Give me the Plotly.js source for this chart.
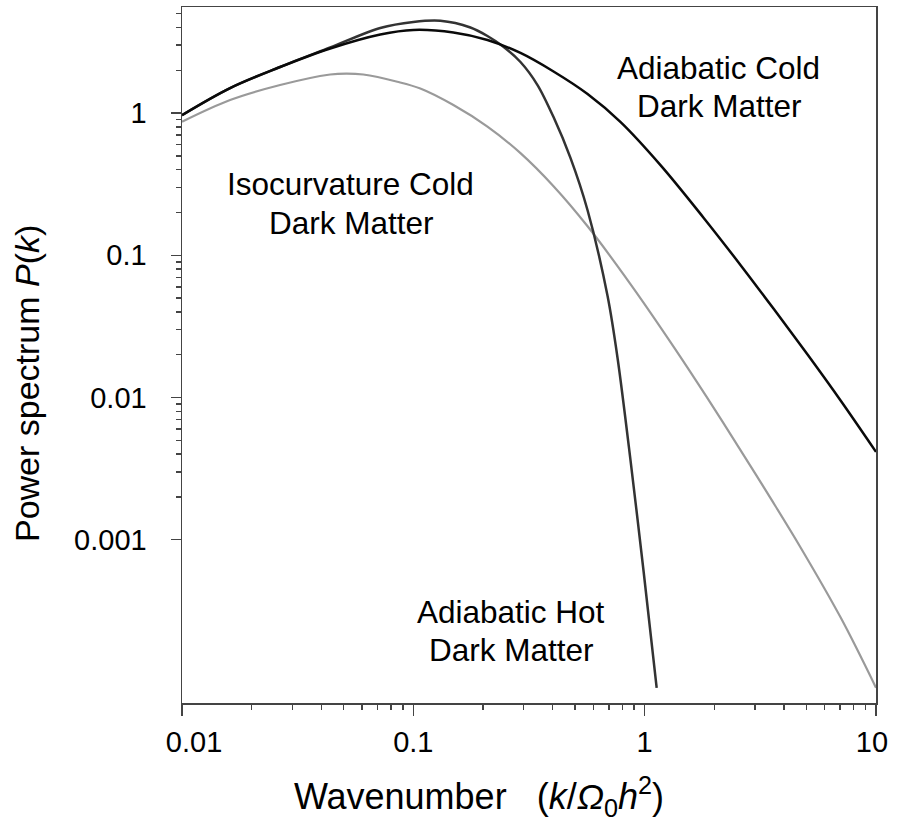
<!DOCTYPE html>
<html>
<head>
<meta charset="utf-8">
<script src="https://cdn.plot.ly/plotly-3.0.1.min.js"></script>
<style>html,body{margin:0;padding:0;background:#fff;}#chart{width:897px;height:822px;}</style>
</head>
<body>
<div id="chart"></div>
<script>
// Adiabatic Cold Dark Matter
var cdmK = [0.01, 0.01614, 0.02655, 0.04372, 0.07195, 0.1, 0.1490, 0.2091, 0.2905, 0.4037, 0.5665, 0.7873, 1.173, 1.800, 2.604, 3.617, 5.078, 7.055, 10];
var cdmP = [0.968, 1.500, 2.108, 2.846, 3.571, 3.842, 3.689, 3.267, 2.646, 1.960, 1.361, 0.864, 0.4290, 0.1831, 0.08489, 0.04185, 0.01988, 0.009449, 0.004145];

// Adiabatic Hot Dark Matter
var hdmK = [0.01, 0.01614, 0.02655, 0.04372, 0.07195, 0.1, 0.1309, 0.1765, 0.2091, 0.2428, 0.2905, 0.3442, 0.4037, 0.4782, 0.5665, 0.6916, 0.764, 0.8697, 0.9901, 1.127];
var hdmP = [0.968, 1.500, 2.108, 2.893, 3.968, 4.373, 4.460, 4.000, 3.486, 2.964, 2.287, 1.575, 0.9372, 0.4822, 0.2074, 0.05144, 0.01882, 0.003559, 0.0005932, 0.00009088];

// Isocurvature Cold Dark Matter
var isoK = [0.01, 0.01614, 0.02655, 0.04372, 0.05129, 0.06074, 0.08525, 0.1072, 0.1490, 0.2091, 0.2905, 0.4037, 0.5665, 0.8697, 1.335, 1.874, 2.527, 3.511, 4.734, 7.055, 10];
var isoP = [0.8685, 1.235, 1.575, 1.867, 1.897, 1.867, 1.661, 1.488, 1.139, 0.8034, 0.5228, 0.3061, 0.160, 0.06249, 0.02272, 0.009824, 0.004576, 0.001944, 0.0008757, 0.0002814, 0.00009118];

var xTickVals = [0.01, 0.1, 1, 10];
var xTickText = ['&nbsp;&nbsp;&nbsp;0.01', '0.1', '1', '10&nbsp;'];
var yTickVals = [0.001, 0.01, 0.1, 1];
var yTickText = ['0.001', '0.01', '0.1', '1'];
var xMinorVals = [0.02,0.03,0.04,0.05,0.06,0.07,0.08,0.09, 0.2,0.3,0.4,0.5,0.6,0.7,0.8,0.9, 2,3,4,5,6,7,8,9];
var yMinorVals = [0.002,0.003,0.004,0.005,0.006,0.007,0.008,0.009, 0.02,0.03,0.04,0.05,0.06,0.07,0.08,0.09, 0.2,0.3,0.4,0.5,0.6,0.7,0.8,0.9, 2,3,4,5];

var FONT = '"Liberation Sans", Arial, Helvetica, sans-serif';
var axisColor = '#444';

var traces = [
  {x: isoK, y: isoP, type: 'scatter', mode: 'lines', name: 'Isocurvature Cold Dark Matter',
   line: {color: '#9a9a9a', width: 2.2, shape: 'spline', smoothing: 1}},
  {x: hdmK, y: hdmP, type: 'scatter', mode: 'lines', name: 'Adiabatic Hot Dark Matter',
   line: {color: '#333333', width: 2.5, shape: 'spline', smoothing: 0.9}},
  {x: cdmK, y: cdmP, type: 'scatter', mode: 'lines', name: 'Adiabatic Cold Dark Matter',
   line: {color: '#0a0a0a', width: 2.5, shape: 'spline', smoothing: 1}}
];

function lx(px) { return (px - 182) / 231 - 2; }
function ly(py) { return (113 - py) / 142; }

var annFont = {family: FONT, size: 31.5, color: '#000'};
var annotations = [
  {text: 'Adiabatic Cold', px: 718, py: 68},
  {text: 'Dark Matter', px: 719, py: 106},
  {text: 'Isocurvature Cold', px: 350, py: 184},
  {text: 'Dark Matter', px: 351, py: 223},
  {text: 'Adiabatic Hot', px: 511, py: 611},
  {text: 'Dark Matter', px: 511, py: 649}
].map(function (a) {
  return {text: a.text, x: lx(a.px), y: ly(a.py), xref: 'x', yref: 'y',
          showarrow: false, xanchor: 'center', yanchor: 'middle', font: annFont};
});

var layout = {
  width: 897, height: 822,
  margin: {l: 182, r: 21, t: 7, b: 119},
  paper_bgcolor: '#fff', plot_bgcolor: '#fff',
  showlegend: false,
  font: {family: FONT, color: '#000'},
  xaxis: {
    type: 'log', range: [-2, 1],
    tickmode: 'array', tickvals: xTickVals, ticktext: xTickText,
    ticks: 'outside', ticklen: 11, tickwidth: 1.5, tickcolor: axisColor,
    ticklabelstandoff: 2, ticklabeloverflow: 'allow',
    minor: {tickmode: 'array', tickvals: xMinorVals, ticks: 'outside', ticklen: 5, tickwidth: 1.5, tickcolor: axisColor, showgrid: false},
    showgrid: false, zeroline: false,
    showline: true, linecolor: axisColor, linewidth: 1.5, mirror: true,
    tickfont: {family: FONT, size: 29, color: '#000'},
    title: {text: 'Wavenumber &nbsp;&nbsp;(<i>k</i>/<i>Ω</i><sub>0</sub><i>h</i><sup>2</sup>)&nbsp;&nbsp;&nbsp;&nbsp;&nbsp;&nbsp;&nbsp;&nbsp;&nbsp;&nbsp;',
            font: {family: FONT, size: 36, color: '#000'}, standoff: 38}
  },
  yaxis: {
    type: 'log', range: [-4.148, 0.746],
    tickmode: 'array', tickvals: yTickVals, ticktext: yTickText,
    ticks: 'outside', ticklen: 10, tickwidth: 1.5, tickcolor: axisColor,
    ticklabelstandoff: 18,
    minor: {tickmode: 'array', tickvals: yMinorVals, ticks: 'outside', ticklen: 5, tickwidth: 1.5, tickcolor: axisColor, showgrid: false},
    showgrid: false, zeroline: false,
    showline: true, linecolor: axisColor, linewidth: 1.5, mirror: true,
    tickfont: {family: FONT, size: 29, color: '#000'},
    title: {text: 'Power spectrum <i>P</i>(<i>k</i>)&nbsp;&nbsp;&nbsp;&nbsp;&nbsp;&nbsp;',
            font: {family: FONT, size: 34, color: '#000'}, standoff: 24}
  },
  annotations: annotations
};

Plotly.newPlot('chart', traces, layout, {displayModeBar: false, staticPlot: true});
</script>
</body>
</html>
